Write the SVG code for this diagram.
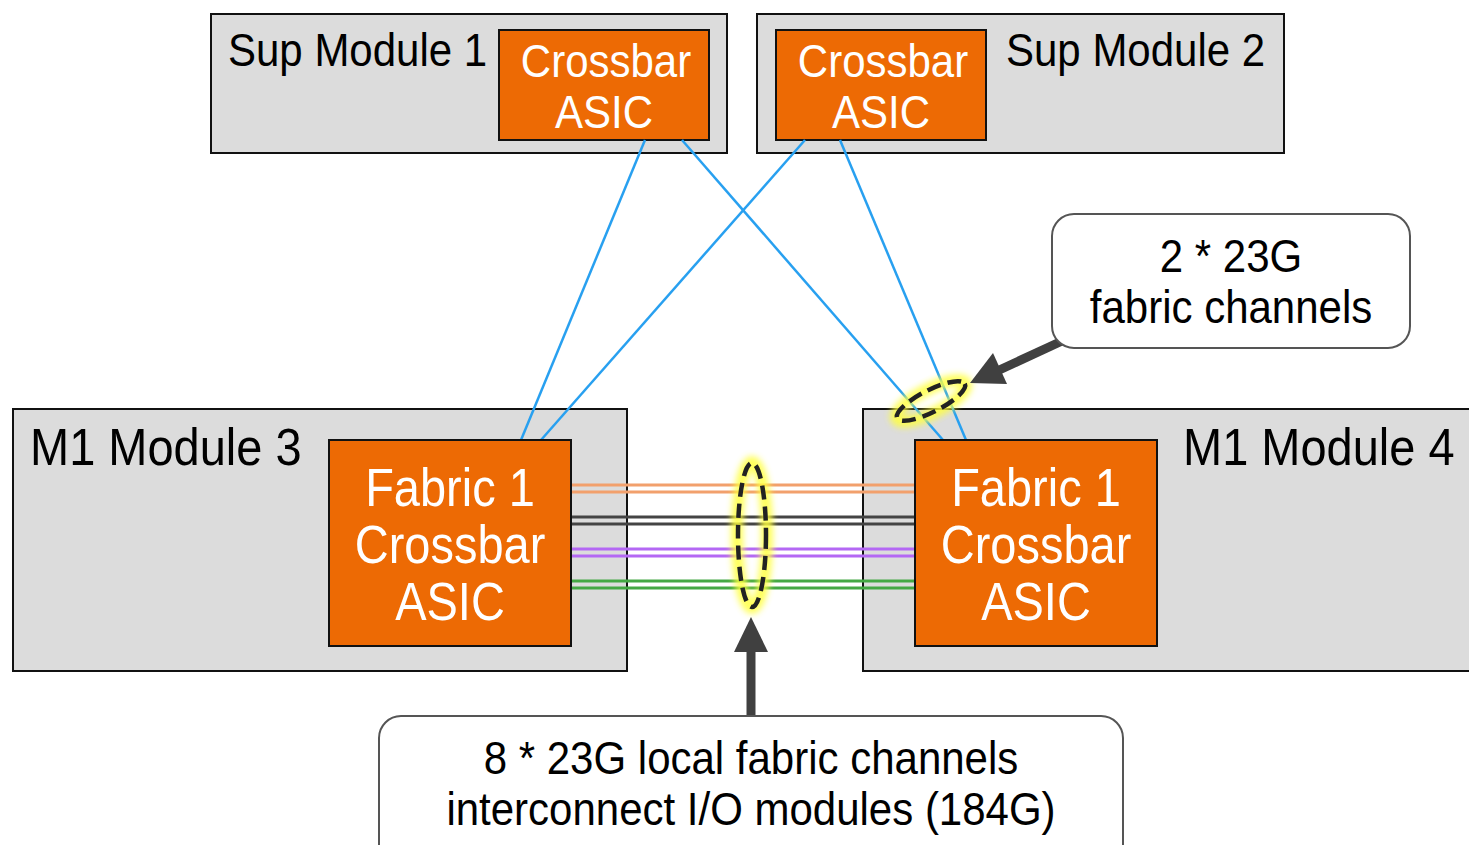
<svg xmlns="http://www.w3.org/2000/svg" width="1469" height="845" viewBox="0 0 1469 845">
<defs>
<style>
.mod{fill:#dcdcdc;stroke:#111;stroke-width:2}
.asic{fill:#ed6a04;stroke:#111;stroke-width:2}
.call{fill:#fff;stroke:#555;stroke-width:2}
.t{font-family:"Liberation Sans",Arial,sans-serif;fill:#000}
.w{fill:#fff}
.s42{font-size:42px}
.s47{font-size:47px}
.mid{text-anchor:middle}
.blue{stroke:#28a0f0;stroke-width:2.5;fill:none}
.ch{stroke-width:3;fill:none}
.glow{fill:none;stroke:#ffff40;stroke-width:12;opacity:0.85;filter:url(#blur)}
.dash{fill:none;stroke:#222;stroke-width:4.5;stroke-dasharray:14 7}
.arr{stroke:#404040;stroke-width:9;fill:none}
.head{fill:#404040}
</style>
<filter id="blur" x="-50%" y="-50%" width="200%" height="200%"><feGaussianBlur stdDeviation="3"/></filter>
</defs>
<rect width="1469" height="845" fill="#fff"/>

<g id="sup1">
<rect class="mod" x="211" y="14" width="516" height="139"/>
<text class="t s42" transform="translate(228,66) scale(1,1.08)">Sup Module 1</text>
<rect class="asic" x="499" y="30" width="210" height="110"/>
<text class="t w s42 mid" transform="translate(606,77) scale(1,1.08)">Crossbar</text>
<text class="t w s42 mid" transform="translate(604,128) scale(1,1.08)">ASIC</text>
</g>

<g id="sup2">
<rect class="mod" x="757" y="14" width="527" height="139"/>
<text class="t s42" transform="translate(1006,66) scale(1,1.08)">Sup Module 2</text>
<rect class="asic" x="776" y="30" width="210" height="110"/>
<text class="t w s42 mid" transform="translate(883,77) scale(1,1.08)">Crossbar</text>
<text class="t w s42 mid" transform="translate(881,128) scale(1,1.08)">ASIC</text>
</g>

<g id="m1mod3">
<rect class="mod" x="13" y="409" width="614" height="262"/>
<text class="t s47" transform="translate(30,465) scale(1,1.1)">M1 Module 3</text>
</g>
<g id="m1mod4">
<rect class="mod" x="863" y="409" width="620" height="262"/>
<text class="t s47" transform="translate(1183,465) scale(1,1.1)">M1 Module 4</text>
</g>

<g id="connectors">
<line class="blue" x1="645" y1="140" x2="521" y2="440"/>
<line class="blue" x1="682" y1="140" x2="943" y2="440"/>
<line class="blue" x1="805" y1="140" x2="541" y2="440"/>
<line class="blue" x1="840" y1="140" x2="966" y2="440"/>
<g class="ch">
<line x1="571" y1="485" x2="915" y2="485" stroke="#f2a06c"/>
<line x1="571" y1="492" x2="915" y2="492" stroke="#f2a06c"/>
<line x1="571" y1="517" x2="915" y2="517" stroke="#444"/>
<line x1="571" y1="524" x2="915" y2="524" stroke="#444"/>
<line x1="571" y1="549" x2="915" y2="549" stroke="#b468f4"/>
<line x1="571" y1="556" x2="915" y2="556" stroke="#b468f4"/>
<line x1="571" y1="581" x2="915" y2="581" stroke="#44a844"/>
<line x1="571" y1="588" x2="915" y2="588" stroke="#44a844"/>
</g>
</g>

<g id="fabric3">
<rect class="asic" x="329" y="440" width="242" height="206"/>
<text class="t w s47 mid" transform="translate(450,506) scale(1,1.15)">Fabric 1</text>
<text class="t w s47 mid" transform="translate(450,563) scale(1,1.15)">Crossbar</text>
<text class="t w s47 mid" transform="translate(450,620) scale(1,1.15)">ASIC</text>
</g>
<g id="fabric4">
<rect class="asic" x="915" y="440" width="242" height="206"/>
<text class="t w s47 mid" transform="translate(1036,506) scale(1,1.15)">Fabric 1</text>
<text class="t w s47 mid" transform="translate(1036,563) scale(1,1.15)">Crossbar</text>
<text class="t w s47 mid" transform="translate(1036,620) scale(1,1.15)">ASIC</text>
</g>

<g id="ring-local">
<ellipse class="glow" cx="752" cy="535" rx="15" ry="73"/>
<ellipse class="dash" cx="752" cy="535" rx="14" ry="72"/>
</g>
<g id="ring-sup">
<ellipse class="glow" cx="931" cy="401" rx="39" ry="12" transform="rotate(-27 931 401)"/>
<ellipse class="dash" cx="931" cy="401" rx="38" ry="11" transform="rotate(-27 931 401)"/>
</g>

<g id="arrows">
<line class="arr" x1="1062" y1="341" x2="995" y2="372"/>
<polygon class="head" points="970,383 993,353 1007,384"/>
<line class="arr" x1="751" y1="716" x2="751" y2="645"/>
<polygon class="head" points="751,617 734,652 768,652"/>
</g>

<g id="callout1">
<rect class="call" x="1052" y="214" width="358" height="134" rx="22"/>
<text class="t s42 mid" transform="translate(1231,272) scale(1,1.08)">2 * 23G</text>
<text class="t s42 mid" transform="translate(1231,323) scale(1,1.08)">fabric channels</text>
</g>
<g id="callout2">
<rect class="call" x="379" y="716" width="744" height="150" rx="22"/>
<text class="t s42 mid" transform="translate(751,774) scale(1,1.08)">8 * 23G local fabric channels</text>
<text class="t s42 mid" transform="translate(751,825) scale(1,1.08)">interconnect I/O modules (184G)</text>
</g>
</svg>
